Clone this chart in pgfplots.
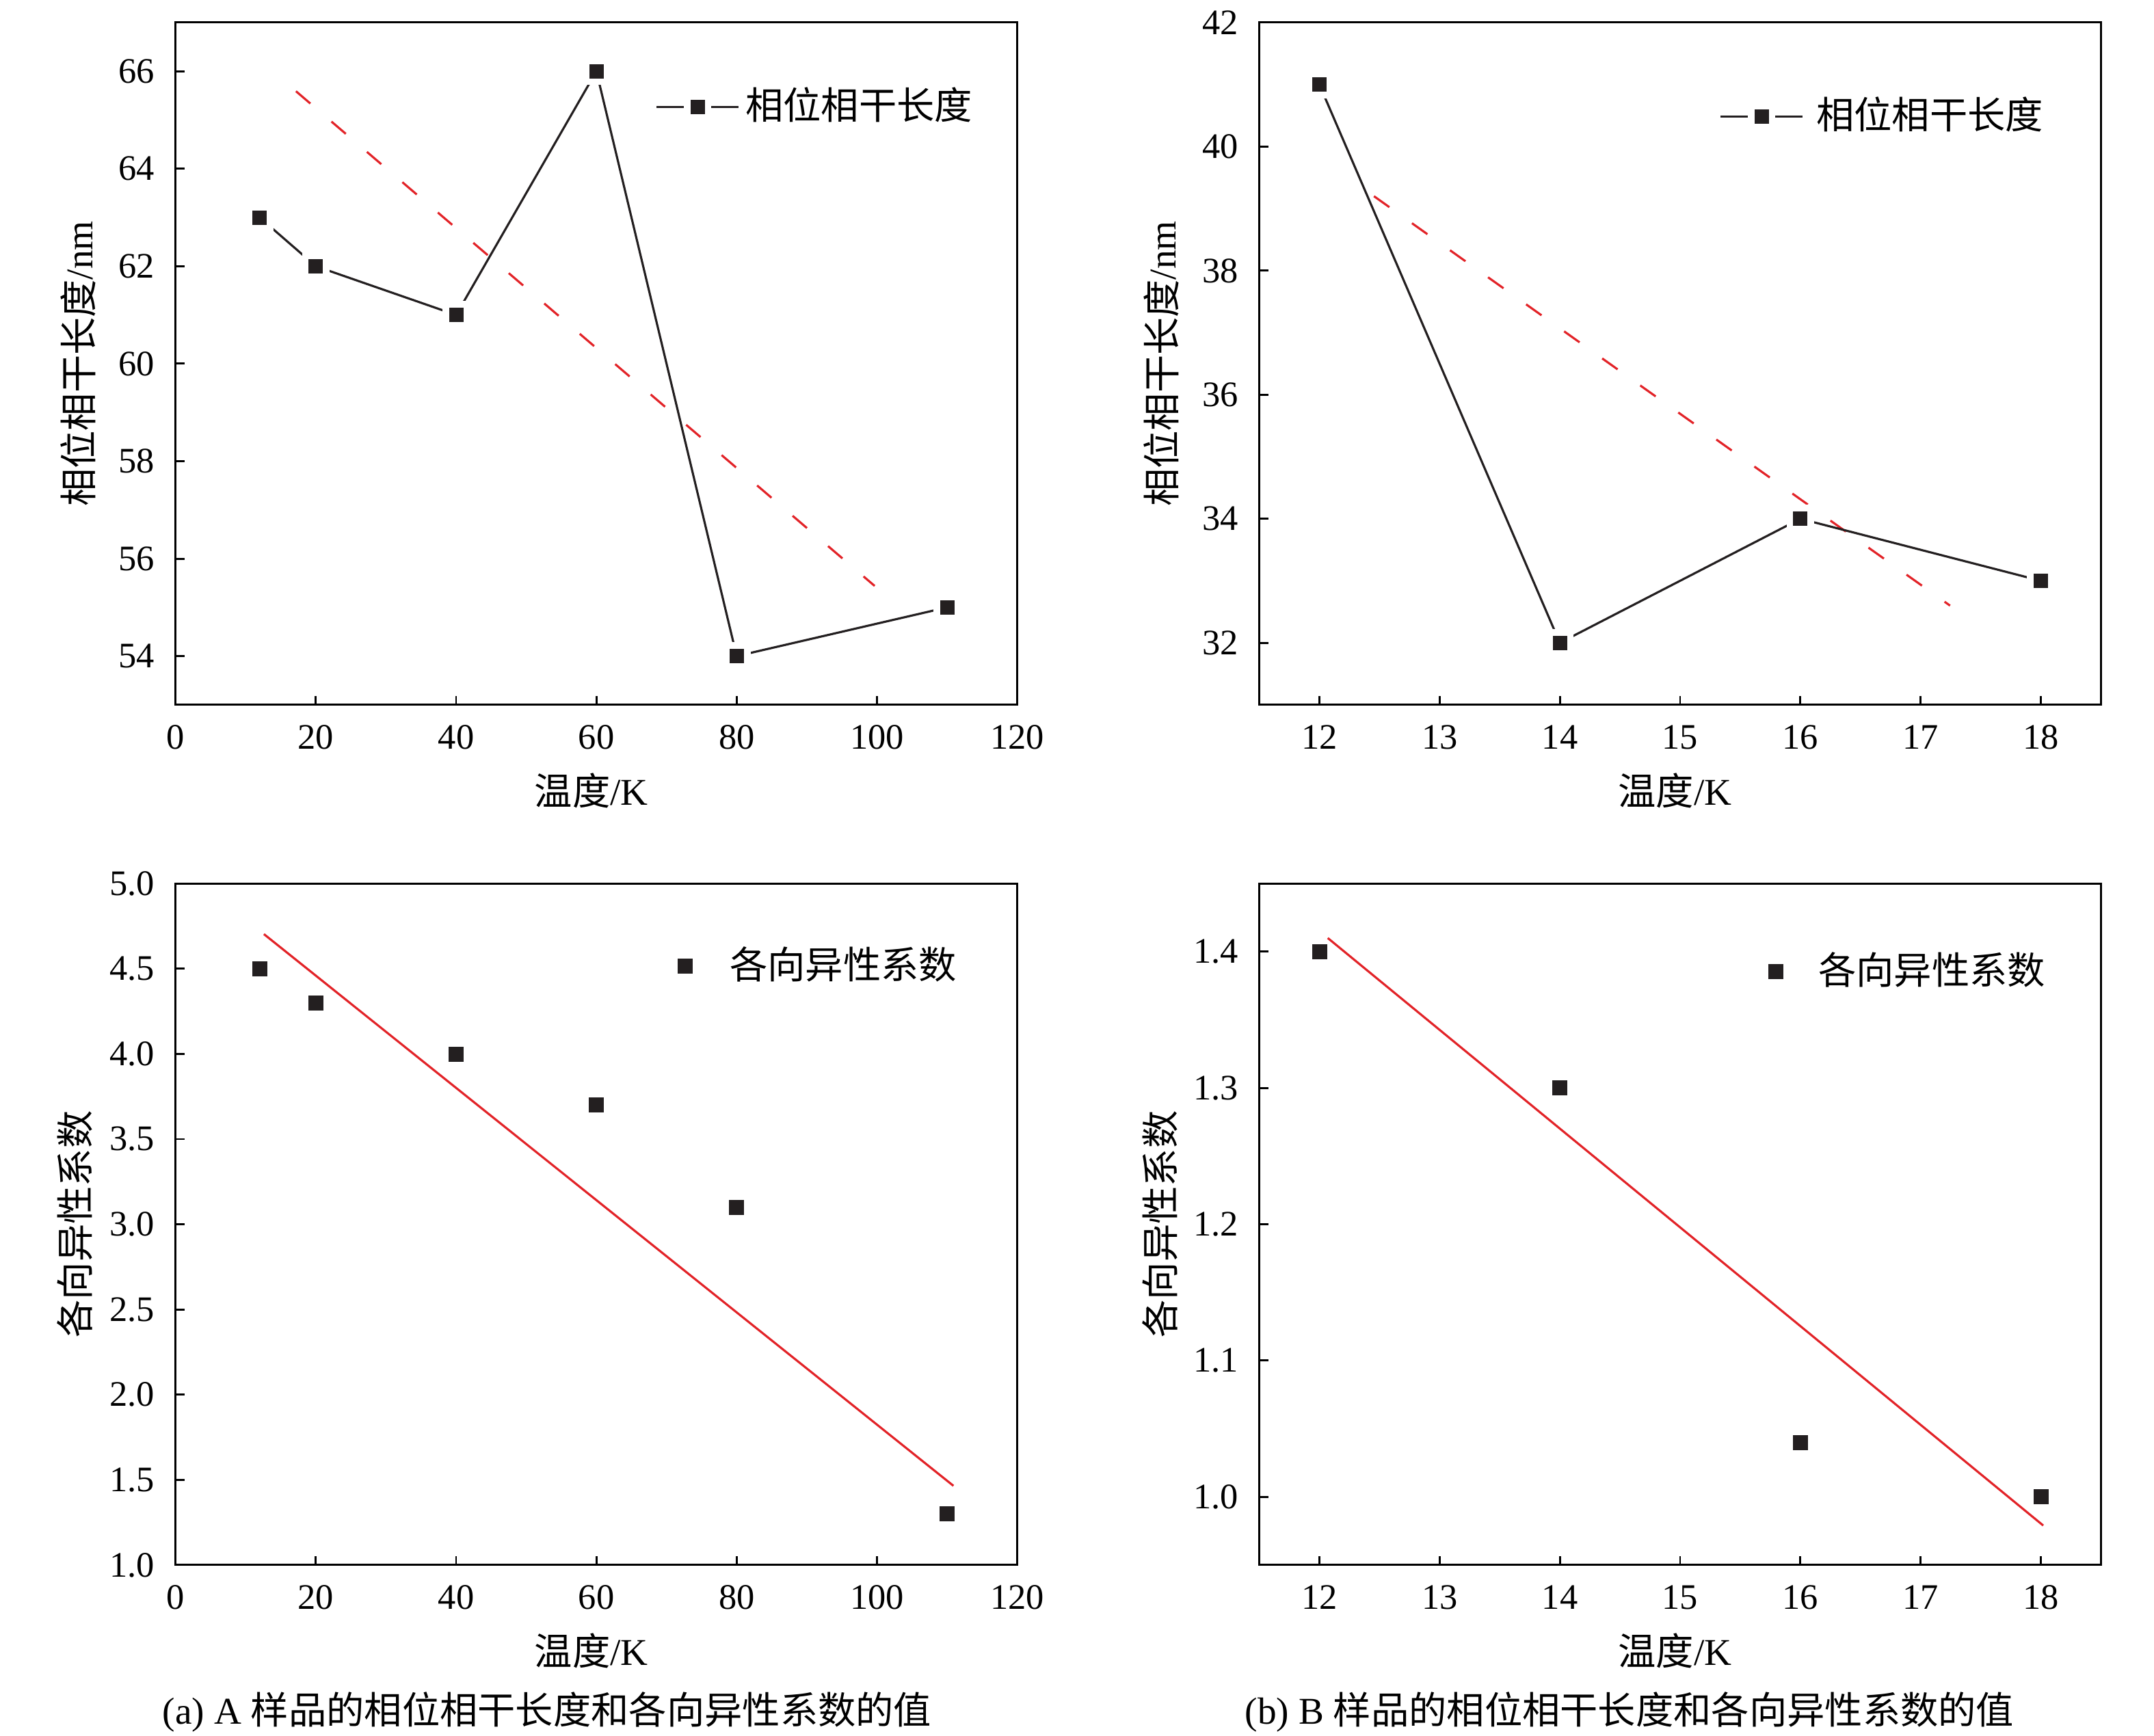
\documentclass[border=0pt]{standalone}
\usepackage{fontspec}
\setmainfont{Liberation Serif}
\newfontfamily\cjk{Noto Sans CJK SC}
\usepackage{pgfplots}
\pgfplotsset{compat=1.18}
\definecolor{mk}{RGB}{35,31,32}
\definecolor{fitred}{RGB}{226,35,40}

\pgfplotsset{
 myax/.style={
  scale only axis, width=175.85pt, anchor=south west,
  axis line style={line width=0.42pt, black},
  every tick/.style={line width=0.42pt, black},
  tick align=inside, tick pos=left, major tick length=1.9pt,
  minor tick num=0,
  tick label style={font=\fontsize{7.5}{9}\selectfont, inner sep=0pt},
  /pgf/number format/assume math mode=true,
  xticklabel shift=4.1pt, yticklabel shift=4.2pt,
  label style={font=\fontsize{7.9}{9.5}\selectfont},
  xlabel style={at={(axis description cs:0.494,-0.126)}, anchor=center},
  legend style={draw=none, fill=none, inner sep=0pt, outer sep=0pt, anchor=west,
    font=\fontsize{7.9}{9.5}\selectfont, nodes={inner sep=0pt}},
  legend cell align=left,
  xlabel={{\cjk 温度}/K},
  clip=false,
 },
 lineser/.style={mk, line width=0.45pt, mark=square*, mark size=2.2pt,
   mark options={fill=mk, draw=white, line width=1.4pt, solid}},
 markser/.style={only marks, mark=square*, mark size=1.5pt,
   mark options={fill=mk, draw=mk, line width=0.1pt},
   legend image code/.code={\draw[##1] plot coordinates {(0pt,0pt)};}},
}

\begin{document}
\begin{tikzpicture}
\useasboundingbox (0,0) rectangle (450pt,362.71pt);

% (a) top
\begin{axis}[myax, at={(36.67pt,215.43pt)}, height=142.57pt,
  xmin=0, xmax=120, xtick={0,20,40,60,80,100,120},
  ymin=53, ymax=67, ytick={54,56,58,60,62,64,66},
  ylabel={{\cjk 相位相干长度}/nm},
  ylabel style={at={(axis description cs:-0.116,0.5)}, anchor=center},
  legend style={at={(0.5704,0.876)}, column sep=1.26pt}]
\addplot[fitred, line width=0.45pt, dash pattern=on 3.95pt off 5.8pt, forget plot]
  coordinates {(17.17,65.59) (99.67,55.44)};
\addplot[lineser] coordinates {(12,63) (20,62) (40,61) (60,66) (80,54) (110,55)};
\addlegendentry{\cjk 相位相干长度}
\end{axis}

% (b) top
\begin{axis}[myax, at={(263.07pt,215.43pt)}, height=142.57pt,
  xmin=11.5, xmax=18.5, xtick={12,13,14,15,16,17,18},
  ymin=31, ymax=42, ytick={32,34,36,38,40,42},
  ylabel={{\cjk 相位相干长度}/nm},
  ylabel style={at={(axis description cs:-0.116,0.5)}, anchor=center},
  legend style={at={(0.547,0.862)}, column sep=2.7pt}]
\addplot[fitred, line width=0.45pt, dash pattern=on 3.95pt off 5.8pt, forget plot]
  coordinates {(12.454,39.20) (17.245,32.60)};
\addplot[lineser] coordinates {(12,41) (14,32) (16,34) (18,33)};
\addlegendentry{\cjk 相位相干长度}
\end{axis}

% (a) bottom
\begin{axis}[myax, at={(36.67pt,35.71pt)}, height=142.4pt,
  xmin=0, xmax=120, xtick={0,20,40,60,80,100,120},
  ymin=1, ymax=5, ytick={1.0,1.5,2.0,2.5,3.0,3.5,4.0,4.5,5.0},
  yticklabel style={/pgf/number format/.cd, fixed, fixed zerofill, precision=1},
  ylabel={\cjk 各向异性系数},
  ylabel style={at={(axis description cs:-0.1197,0.5)}, anchor=center},
  legend style={at={(0.5966,0.8788)}, column sep=7.9pt}]
\addplot[fitred, line width=0.45pt, forget plot]
  coordinates {(12.6,4.703) (110.9,1.465)};
\addplot[markser] coordinates {(12,4.5) (20,4.3) (40,4.0) (60,3.7) (80,3.1) (110,1.3)};
\addlegendentry{\cjk 各向异性系数}
\end{axis}

% (b) bottom
\begin{axis}[myax, at={(263.07pt,35.71pt)}, height=142.4pt,
  xmin=11.5, xmax=18.5, xtick={12,13,14,15,16,17,18},
  ymin=0.95, ymax=1.45, ytick={1.0,1.1,1.2,1.3,1.4},
  yticklabel style={/pgf/number format/.cd, fixed, fixed zerofill, precision=1},
  ylabel={\cjk 各向异性系数},
  ylabel style={at={(axis description cs:-0.118,0.5)}, anchor=center},
  legend style={at={(0.6052,0.8706)}, column sep=7.4pt}]
\addplot[fitred, line width=0.45pt, forget plot]
  coordinates {(12.07,1.41) (18.02,0.979)};
\addplot[markser] coordinates {(12,1.4) (14,1.3) (16,1.04) (18,1.0)};
\addlegendentry{\cjk 各向异性系数}
\end{axis}

\node[font=\fontsize{7.9}{9.5}\selectfont, inner sep=0pt] at (114.29pt,5pt)
  {(a) A {\cjk 样品的相位相干长度和各向异性系数的值}};
\node[font=\fontsize{7.9}{9.5}\selectfont, inner sep=0pt] at (340.43pt,5pt)
  {(b) B {\cjk 样品的相位相干长度和各向异性系数的值}};
\end{tikzpicture}
\end{document}
